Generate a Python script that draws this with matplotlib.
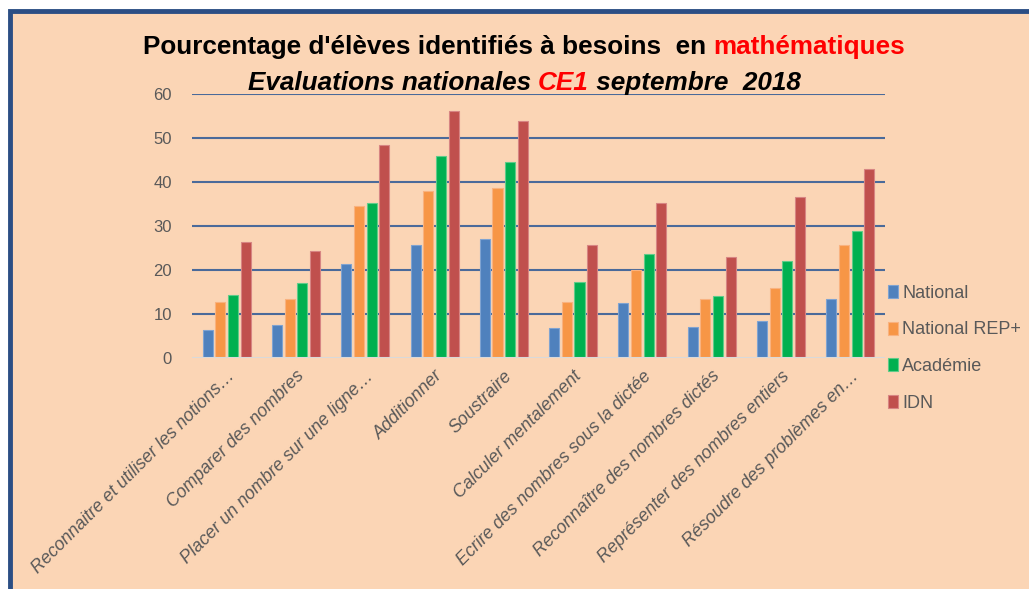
import matplotlib
matplotlib.use("Agg")
import matplotlib.pyplot as plt
from matplotlib.patches import Rectangle
import numpy as np

categories = [
    "Reconnaitre et utiliser les notions…",
    "Comparer des nombres",
    "Placer un nombre sur une ligne…",
    "Additionner",
    "Soustraire",
    "Calculer mentalement",
    "Ecrire des nombres sous la dictée",
    "Reconnaître des nombres dictés",
    "Représenter des nombres entiers",
    "Résoudre des problèmes en…",
]
series_names = ["National", "National REP+", "Académie", "IDN"]
national = [6.4, 7.4, 21.4, 25.7, 27.0, 6.8, 12.4, 7.0, 8.4, 13.4]
national_rep = [12.7, 13.4, 34.6, 38.0, 38.6, 12.7, 20.0, 13.4, 16.0, 25.7]
academie = [14.4, 17.0, 35.2, 45.9, 44.5, 17.3, 23.7, 14.1, 22.0, 28.9]
idn = [26.4, 24.3, 48.3, 56.2, 53.9, 25.7, 35.2, 23.0, 36.6, 43.0]
yticks = [0, 10, 20, 30, 40, 50, 60]

colors = ["#4F81BD", "#F79646", "#00B050", "#C0504D"]
edge_colors = ["#7FA3D1", "#F9B27F", "#5FCB8A", "#D78583"]
bg = "#FBD5B5"
gray = "#595959"

W, H = 1029, 589
fig = plt.figure(figsize=(W / 100, H / 100), dpi=100)
fig.patch.set_facecolor("white")

# framed peach background
fig.add_artist(Rectangle((10 / W, -0.05), 1.1, (H - 10.5) / H + 0.05,
                         transform=fig.transFigure, facecolor=bg,
                         edgecolor="#2B4E84", linewidth=3.5, zorder=0))

ax = fig.add_axes([192 / W, 1 - 358 / H, (885 - 192) / W, (358 - 94) / H])
ax.set_facecolor("none")

x = np.arange(len(categories))
data = [national, national_rep, academie, idn]
step = 0.183
width = 0.145
for i, (vals, c, ec, name) in enumerate(zip(data, colors, edge_colors, series_names)):
    ax.bar(x + (i - 1.5) * step, vals, width, color=c, edgecolor=ec,
           linewidth=0.8, label=name, zorder=3)

ax.set_xlim(-0.5, len(categories) - 0.5)
ax.set_ylim(0, 60)
ax.set_yticks(yticks)
ax.set_yticklabels([str(v) for v in yticks], fontsize=12, color=gray,
                   family="Liberation Sans")
ax.tick_params(axis="y", length=0, pad=14.5)
ax.tick_params(axis="x", length=0, pad=7)
for s in ax.spines.values():
    s.set_visible(False)
for v in yticks[1:]:
    ax.axhline(v, color="#4A6A9A", linewidth=1.5, zorder=1)
ax.axhline(0, color="#D9D9D9", linewidth=1.5, zorder=4)

ax.set_xticks(x)
ax.set_xticklabels(categories, rotation=45, ha="right", va="top",
                   rotation_mode="anchor", fontsize=12.8, style="italic",
                   color=gray, family="Liberation Sans")

leg = ax.legend(loc="upper left", bbox_to_anchor=(888 / W, 1 - 285 / H),
                bbox_transform=fig.transFigure, frameon=False,
                prop={"family": "Liberation Sans", "size": 13},
                handlelength=0.55, handleheight=0.75, handletextpad=0.25,
                labelspacing=1.08, borderpad=0, borderaxespad=0)
for t in leg.get_texts():
    t.set_color(gray)

# multi-coloured titles
fig.canvas.draw()
renderer = fig.canvas.get_renderer()


def colored_line(parts, y, cx, target_w, size, **kw):
    texts = []
    for s, col in parts:
        t = fig.text(0, y, s, color=col, ha="left", va="center",
                     transform=None, fontsize=size, **kw)
        texts.append(t)
    total = sum(t.get_window_extent(renderer).width for t in texts)
    new_size = size * target_w / total
    for t in texts:
        t.set_fontsize(new_size)
    widths = [t.get_window_extent(renderer).width for t in texts]
    total = sum(widths)
    xpos = cx - total / 2
    for t, w in zip(texts, widths):
        t.set_position((xpos, y))
        xpos += w


colored_line([("Pourcentage d'élèves identifiés à besoins  en ", "black"),
              ("mathématiques", "#FF0000")],
             H - 47, 524, 762, 17, family="Liberation Sans", fontweight="bold")
colored_line([("Evaluations nationales ", "black"), ("CE1", "#FF0000"),
              (" septembre  2018", "black")],
             H - 83, 524, 553, 17, family="Liberation Sans", fontweight="bold",
             style="italic")

fig.savefig("out.png", dpi=100, facecolor=fig.get_facecolor())
